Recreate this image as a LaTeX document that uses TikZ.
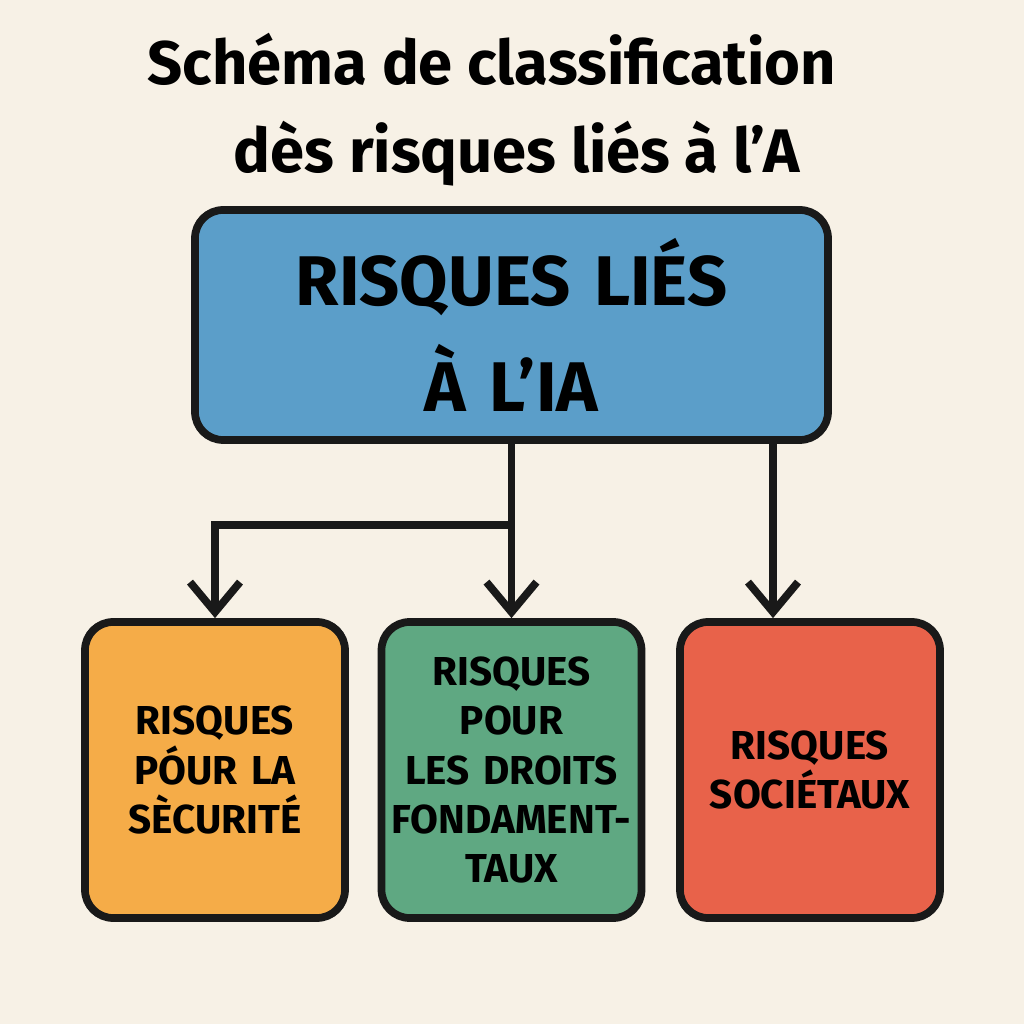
\documentclass[tikz,border=0pt]{standalone}
\usepackage{fontspec}
\setmainfont{Fira Sans}
\usetikzlibrary{arrows.meta,positioning}
\definecolor{bgcol}{HTML}{F7F1E6}
\definecolor{topcol}{HTML}{5B9EC9}
\definecolor{safecol}{HTML}{F5AC48}
\definecolor{rightscol}{HTML}{5FA882}
\definecolor{soccol}{HTML}{E8624A}
\begin{document}
\begin{tikzpicture}[
  >={Straight Barb[length=3mm,width=5mm]},
  riskbox/.style={draw=black!90, line width=2.2pt, rounded corners=8pt, align=center,
    font=\fontsize{11.5}{14}\selectfont\bfseries, text width=2.55cm,
    minimum width=2.6cm, minimum height=2.96cm, inner sep=0pt},
  link/.style={line width=2.2pt, black!90},
]
  % Background
  \fill[bgcol] (0,0) rectangle (10.24,10.24);
  \useasboundingbox (0,0) rectangle (10.24,10.24);

  % Title
  \node[font=\fontsize{17.5}{25}\selectfont\fontseries{sb}\selectfont, align=center] (title) at (4.92,9.14)
    {Schéma de classification\\\hspace*{0.5cm}dès risques liés à l’A};

  % Main box
  \node[riskbox, fill=topcol, text width=6cm, minimum width=6.33cm, minimum height=2.3cm,
    font=\fontsize{20}{30}\selectfont\bfseries] (main) at (5.115,6.99)
    {RISQUES LIÉS\\À L’IA};

  % Category boxes
  \node[riskbox, fill=safecol] (safe) at (2.15,2.54) {RISQUES\\PÓUR LA\\SÈCURITÉ};
  \node[riskbox, fill=rightscol] (rights) at (5.115,2.54)
    {RISQUES\\POUR\\\mbox{LES DROITS}\\\mbox{FONDAMENT-}\\TAUX};
  \node[riskbox, fill=soccol] (soc) at (8.1,2.54) {RISQUES\\SOCIÉTAUX};

  % Connectors
  \coordinate (split) at (main.south |- 0,4.99);
  \coordinate (rt) at (main.south -| 7.73,0);
  \draw[link, ->] (main.south) -- (rights.north);
  \draw[link, ->] (split) -| (safe.north);
  \draw[link, ->] (rt) -- (rt |- soc.north);
\end{tikzpicture}
\end{document}
